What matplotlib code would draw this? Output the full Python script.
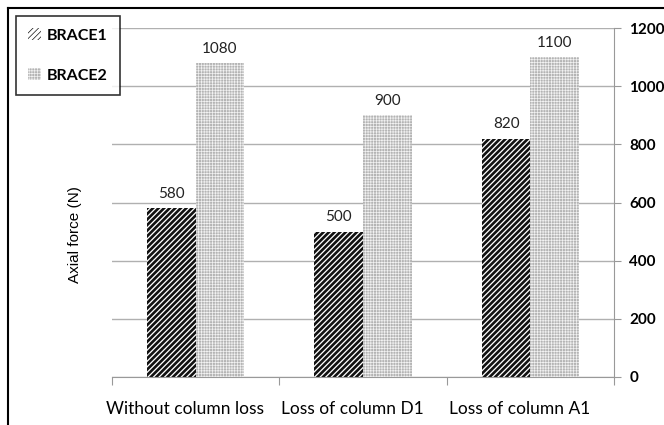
import matplotlib.pyplot as plt
import matplotlib.transforms as mtransforms
import numpy as np
from matplotlib.lines import Line2D

plt.rcParams['font.family'] = ['Lato', 'DejaVu Sans']

categories = ['Without column loss', 'Loss of column D1', 'Loss of column A1']
brace1 = [580, 500, 820]
brace2 = [1080, 900, 1100]
yticks = [0, 200, 400, 600, 800, 1000, 1200]

fig = plt.figure(figsize=(6.64, 4.25), dpi=100)
ax = fig.add_axes([0.1687, 0.113, 0.756, 0.821])

x = np.arange(len(categories))
w = 0.29
plt.rcParams['hatch.linewidth'] = 1.9
b1 = ax.bar(x - w / 2, brace1, w, facecolor='white', edgecolor='#111111',
            hatch='//////', linewidth=0, label='BRACE1')
plt.rcParams['hatch.linewidth'] = 0.5
b2 = ax.bar(x + w / 2, brace2, w, facecolor='#b4b4b4', edgecolor='#f2f2f2',
            hatch='++++++', linewidth=0, label='BRACE2')

for rect, v in zip(list(b1) + list(b2), brace1 + brace2):
    ax.text(rect.get_x() + rect.get_width() / 2, v + 25, str(v),
            ha='center', va='bottom', fontsize=11, color='#222222')

ax.set_xlim(-0.5, 2.5)
ax.set_ylim(0, 1200)
ax.set_yticks(yticks)
ax.yaxis.tick_right()
ax.set_yticklabels([str(t) for t in yticks], fontweight='bold', fontsize=11)
ax.tick_params(axis='y', length=5, color='#999999', pad=6)
ax.set_xticks([-0.5, 0.5, 1.5, 2.5])
ax.set_xticklabels([])
ax.set_xticks(x, minor=True)
ax.set_xticklabels(categories, minor=True, fontsize=12.5)
ax.tick_params(axis='x', which='major', length=6, color='#999999')
ax.tick_params(axis='x', which='minor', length=0, pad=17)
shift = mtransforms.ScaledTranslation(-11 / 100, 0, fig.dpi_scale_trans)
for lbl in ax.get_xticklabels(minor=True):
    lbl.set_transform(lbl.get_transform() + shift)
ax.grid(axis='y', color='#b0b0b0', linewidth=1)
ax.set_axisbelow(True)
for side in ['top', 'left']:
    ax.spines[side].set_visible(False)
for side in ['bottom', 'right']:
    ax.spines[side].set_color('#999999')

fig.text(0.113, 0.447, 'Axial force (N)', rotation=90, ha='center',
         va='center', fontsize=11, family='Liberation Sans')

leg = fig.legend(handles=[b1, b2], loc='upper left',
                 bbox_to_anchor=(0.012, 0.981), frameon=True, fancybox=False,
                 edgecolor='black', prop={'weight': 'bold', 'size': 11.5},
                 handlelength=0.8, handleheight=0.8, handletextpad=0.4,
                 labelspacing=1.6, borderpad=0.75)
leg.get_frame().set_linewidth(1.2)

# outer frame lines
fig.add_artist(Line2D([0.012, 1], [0.981, 0.981], color='black', linewidth=1.5))
fig.add_artist(Line2D([0.012, 0.012], [0, 0.981], color='black', linewidth=1.5))

fig.savefig('out.png', dpi=100)
